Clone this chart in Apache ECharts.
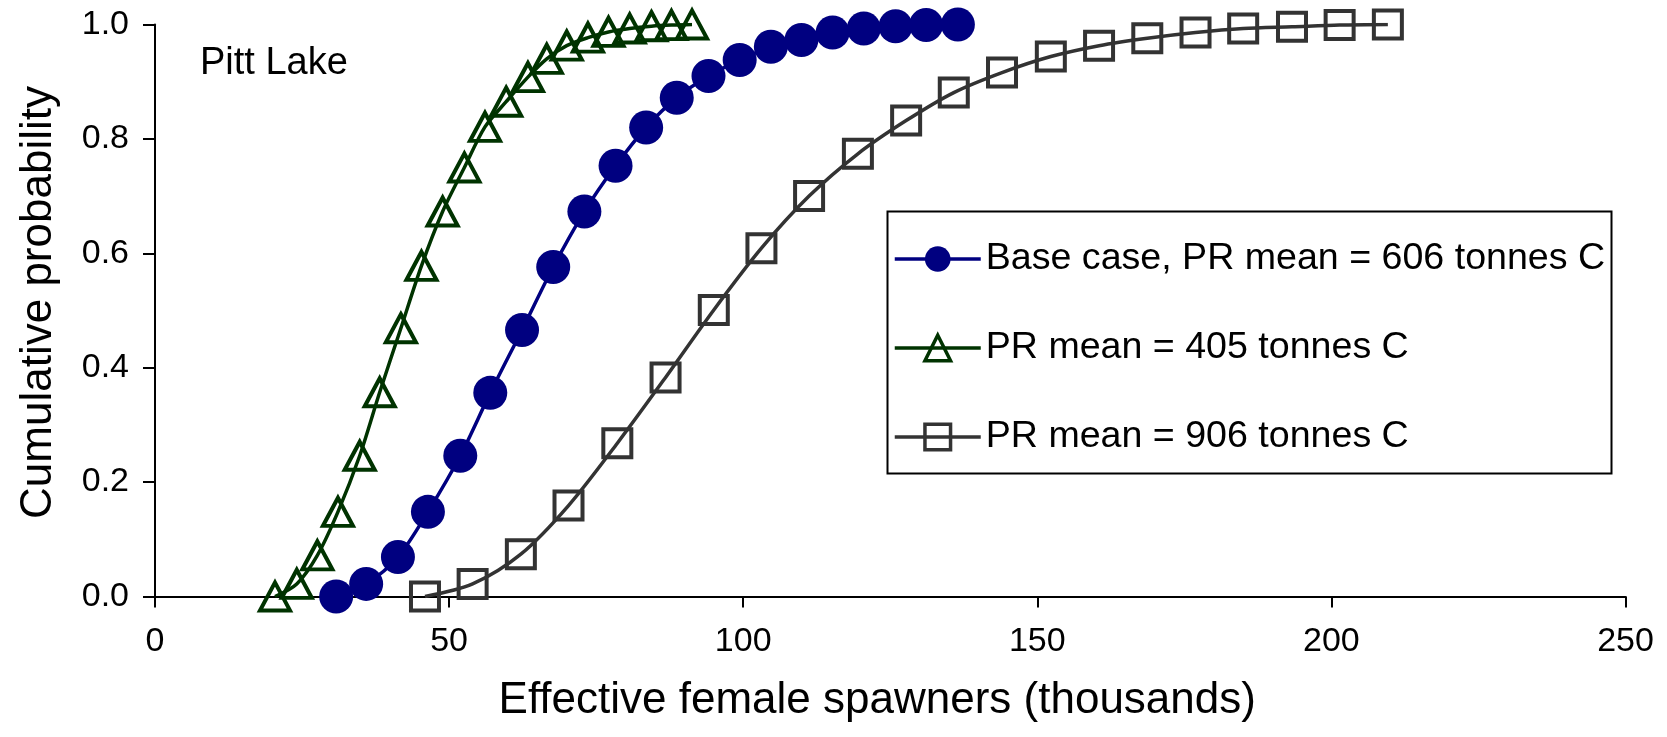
<!DOCTYPE html>
<html>
<head>
<meta charset="utf-8">
<title>Pitt Lake cumulative probability</title>
<script src="https://cdn.jsdelivr.net/npm/echarts@6/dist/echarts.min.js"></script>
<style>
  html, body { margin: 0; padding: 0; background: #ffffff; }
  #chart { width: 1667px; height: 737px; }
</style>
</head>
<body>
<div id="chart"></div>
<script>
// Effective female spawners (thousands) and cumulative probability per scenario
const baseX = [30.8, 35.9, 41.3, 46.4, 51.9, 57.0, 62.4, 67.7, 73.0, 78.3, 83.5, 88.7, 94.1, 99.4, 104.7, 109.9, 115.2, 120.5, 125.9, 131.1, 136.5];
const baseY = [0.0, 0.022, 0.069, 0.148, 0.246, 0.356, 0.466, 0.576, 0.673, 0.753, 0.820, 0.872, 0.910, 0.938, 0.961, 0.973, 0.986, 0.993, 0.997, 0.999, 1.0];

const lowX = [20.4, 24.1, 27.6, 31.1, 34.8, 38.2, 41.8, 45.3, 48.9, 52.6, 56.1, 59.7, 63.4, 66.6, 70.0, 73.6, 77.1, 80.7, 84.4, 87.8, 91.3];
const lowY = [0.0, 0.022, 0.072, 0.148, 0.246, 0.357, 0.469, 0.578, 0.673, 0.750, 0.821, 0.865, 0.908, 0.940, 0.963, 0.977, 0.987, 0.993, 0.997, 0.999, 1.0];

const highX = [45.9, 54.0, 62.2, 70.3, 78.6, 86.8, 95.0, 103.1, 111.2, 119.5, 127.7, 135.8, 144.0, 152.3, 160.5, 168.7, 176.9, 185.0, 193.3, 201.4, 209.6];
const highY = [0.0, 0.022, 0.074, 0.159, 0.268, 0.383, 0.501, 0.609, 0.700, 0.774, 0.832, 0.881, 0.916, 0.944, 0.963, 0.976, 0.986, 0.993, 0.996, 0.999, 1.0];

const seriesNames = [
  'Base case, PR mean = 606 tonnes C',
  'PR mean = 405 tonnes C',
  'PR mean = 906 tonnes C'
];
const xTicks = [0, 50, 100, 150, 200, 250];
const yTicks = [0.0, 0.2, 0.4, 0.6, 0.8, 1.0];

const FONT = '"Liberation Sans", Arial, Helvetica, sans-serif';
const zip = (xs, ys) => xs.map((x, i) => [x, ys[i]]);

const chart = echarts.init(document.getElementById('chart'), null, { renderer: 'canvas' });

const axisCommon = {
  axisLine: { show: true, onZero: false, lineStyle: { color: '#000', width: 2 } },
  axisTick: { show: true, inside: false, lineStyle: { color: '#000', width: 2 } },
  splitLine: { show: false },
  nameTextStyle: { color: '#000', fontFamily: FONT, fontSize: 44 }
};

chart.setOption({
  backgroundColor: '#ffffff',
  animation: false,
  textStyle: { fontFamily: FONT },
  grid: { left: 155, right: 41.5, top: 24.5, bottom: 140.5, containLabel: false },
  xAxis: Object.assign({}, axisCommon, {
    type: 'value',
    min: xTicks[0],
    max: xTicks[xTicks.length - 1],
    interval: xTicks[1] - xTicks[0],
    name: 'Effective female spawners (thousands)',
    nameLocation: 'middle',
    nameGap: 82,
    nameTextStyle: Object.assign({}, axisCommon.nameTextStyle, { padding: [0, 26, 0, 0] }),
    axisTick: Object.assign({}, axisCommon.axisTick, { length: 11 }),
    axisLabel: { color: '#000', fontFamily: FONT, fontSize: 34, margin: 28 }
  }),
  yAxis: Object.assign({}, axisCommon, {
    type: 'value',
    min: yTicks[0],
    max: yTicks[yTicks.length - 1],
    interval: 0.2,
    name: 'Cumulative probability',
    nameLocation: 'middle',
    nameGap: 94,
    nameTextStyle: Object.assign({}, axisCommon.nameTextStyle, { padding: [0, 0, 0, 16] }),
    axisTick: Object.assign({}, axisCommon.axisTick, { length: 12 }),
    axisLabel: {
      color: '#000', fontFamily: FONT, fontSize: 34, margin: 26,
      formatter: v => v.toFixed(1)
    }
  }),
  legend: {
    orient: 'vertical',
    left: 893,
    top: 240,
    padding: 0,
    itemGap: 51,
    itemWidth: 86,
    itemHeight: 32,
    lineStyle: { width: 3.5 },
    itemStyle: { borderWidth: 3.5 },
    textStyle: { color: '#000', fontFamily: FONT, fontSize: 37.6 },
    data: [
      { name: seriesNames[0], lineStyle: { width: 3.5 }, itemStyle: { borderWidth: 0 } },
      { name: seriesNames[1], lineStyle: { width: 3.5 }, itemStyle: { borderWidth: 3.5 } },
      { name: seriesNames[2], lineStyle: { width: 3.5 }, itemStyle: { borderWidth: 3.5 } }
    ]
  },
  graphic: [
    {
      type: 'rect',
      left: 885, top: 209,
      shape: { width: 724, height: 262 },
      style: { fill: 'none', stroke: '#000', lineWidth: 2 },
      z: 10
    },
    {
      type: 'text',
      left: 200, top: 45,
      style: { text: 'Pitt Lake', fill: '#000', font: '38px ' + FONT }
    }
  ],
  series: [
    {
      name: seriesNames[0],
      type: 'line',
      data: zip(baseX, baseY),
      smooth: 0.3,
      symbol: 'circle',
      symbolSize: 34,
      color: '#000080',
      lineStyle: { color: '#000080', width: 3.5 },
      itemStyle: { color: '#000080', borderWidth: 0 },
      z: 3
    },
    {
      name: seriesNames[1],
      type: 'line',
      data: zip(lowX, lowY),
      smooth: 0.3,
      symbol: 'triangle',
      symbolSize: [30, 28],
      color: '#003300',
      lineStyle: { color: '#003300', width: 3.5 },
      itemStyle: { color: 'rgba(255,255,255,0)', borderColor: '#003300', borderWidth: 4 },
      z: 4
    },
    {
      name: seriesNames[2],
      type: 'line',
      data: zip(highX, highY),
      smooth: 0.3,
      symbol: 'rect',
      symbolSize: 28,
      color: '#333333',
      lineStyle: { color: '#333333', width: 3.5 },
      itemStyle: { color: 'rgba(255,255,255,0)', borderColor: '#333333', borderWidth: 4 },
      z: 2
    }
  ]
});
</script>
</body>
</html>
